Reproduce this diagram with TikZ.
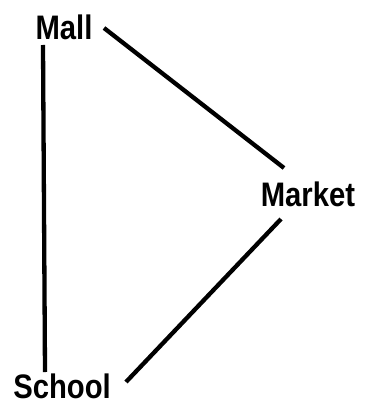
\documentclass[tikz,border=0pt]{standalone}
\usepackage{fontspec}
\setmainfont{Liberation Sans}
\begin{document}
\begin{tikzpicture}[x=1pt,y=-1pt,
  lbl/.style={font=\fontsize{34}{34}\selectfont\bfseries, inner sep=0pt, text=black, xscale=0.86},
  edge/.style={line width=4.3pt, black}]
\useasboundingbox[fill=white] (0,0) rectangle (367,406);
\node[lbl] (mall) at (64,27) {Mall};
\node[lbl] (market) at (308,194) {Market};
\node[lbl] (school) at (62,386) {School};
\coordinate (m1) at (43,45);
\coordinate (s1) at (45,372);
\coordinate (m2) at (104,28);
\coordinate (k1) at (284,168);
\coordinate (k2) at (281,219);
\coordinate (s2) at (126,382);
\draw[edge] (m1) -- (s1);
\draw[edge] (m2) -- (k1);
\draw[edge] (k2) -- (s2);
\end{tikzpicture}
\end{document}
